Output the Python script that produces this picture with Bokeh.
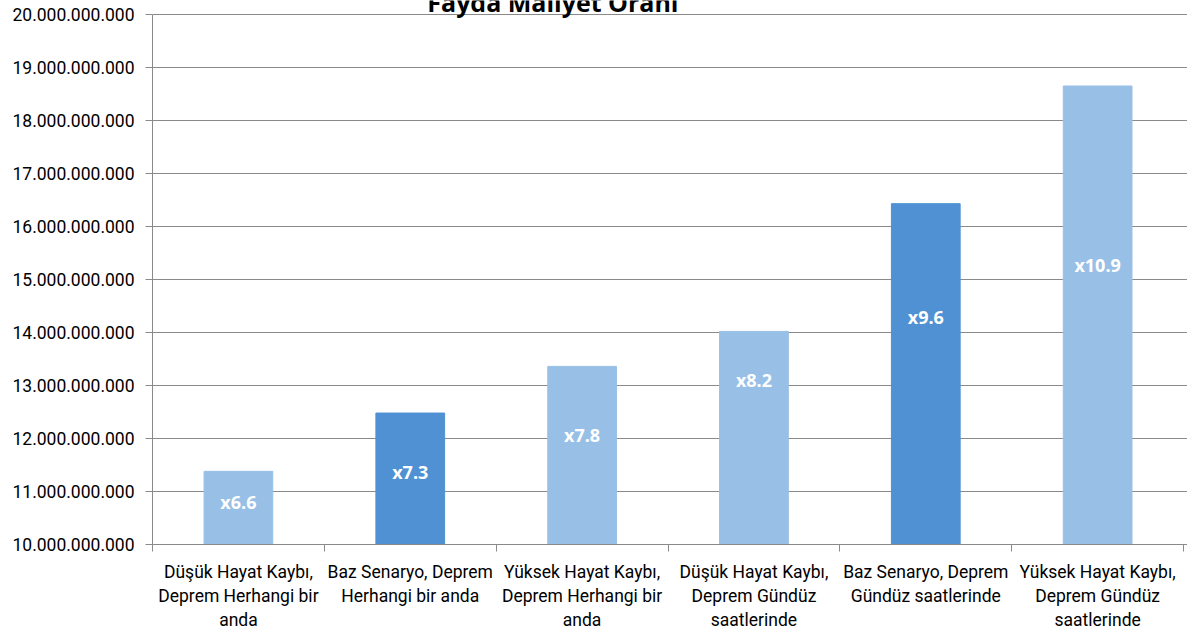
from bokeh.plotting import figure
from bokeh.models import ColumnDataSource, FixedTicker, Range1d
from bokeh.core.properties import value
from bokeh.embed import file_html
from bokeh.resources import INLINE

categories = [
    "Düşük Hayat Kaybı,\nDeprem Herhangi bir\nanda",
    "Baz Senaryo, Deprem\nHerhangi bir anda",
    "Yüksek Hayat Kaybı,\nDeprem Herhangi bir\nanda",
    "Düşük Hayat Kaybı,\nDeprem Gündüz\nsaatlerinde",
    "Baz Senaryo, Deprem\nGündüz saatlerinde",
    "Yüksek Hayat Kaybı,\nDeprem Gündüz\nsaatlerinde",
]
values = [11.38e9, 12.48e9, 13.36e9, 14.02e9, 16.43e9, 18.65e9]
ratio_labels = ["x6.6", "x7.3", "x7.8", "x8.2", "x9.6", "x10.9"]
label_levels = [10.81e9, 11.37e9, 12.07e9, 13.10e9, 14.29e9, 15.28e9]
bar_colors = ["#98c0e6", "#4f91d3", "#98c0e6", "#98c0e6", "#4f91d3", "#98c0e6"]
title_text = "Fayda Maliyet Oranı"
y_ticks = [10e9 + i * 1e9 for i in range(11)]

xs = [i + 0.5 for i in range(len(categories))]
src = ColumnDataSource(dict(x=xs, top=values, color=bar_colors,
                            lab=ratio_labels, ly=label_levels))

p = figure(width=1187, height=632, output_backend="svg", toolbar_location=None,
           x_range=Range1d(0, 6.023), y_range=Range1d(10e9, 20.263e9),
           min_border_left=152, min_border_right=0, min_border_top=0,
           min_border_bottom=86)
p.outline_line_color = None
p.background_fill_color = "white"
p.border_fill_color = "white"

p.vbar(x="x", top="top", bottom=10e9, width=0.4, color="color", source=src)
p.text(x="x", y="ly", text="lab", source=src, text_color="white",
       text_font=value("Open Sans"), text_font_style="bold",
       text_font_size="18px", text_align="center", text_baseline="middle")

p.text(x=[2.33], y=[20.24e9], text=[title_text], text_color="black",
       text_font=value("Open Sans"), text_font_style="bold",
       text_font_size="25px", text_align="center", text_baseline="middle")

# y axis
p.yaxis.ticker = FixedTicker(ticks=y_ticks)
p.yaxis.major_label_overrides = {t: f"{int(t):,}".replace(",", ".") for t in y_ticks}
p.yaxis.bounds = (10e9, 20e9)
p.yaxis.major_tick_in = 0
p.yaxis.major_tick_out = 7
p.yaxis.minor_tick_line_color = None
p.yaxis.axis_line_color = "#8a8a8a"
p.yaxis.major_tick_line_color = "#8a8a8a"
p.yaxis.major_label_text_font = "Roboto"
p.yaxis.major_label_text_font_size = "17.5px"
p.yaxis.major_label_text_color = "#000000"
p.yaxis.major_label_standoff = 11

# x axis
p.xaxis.ticker = FixedTicker(ticks=xs, minor_ticks=[0, 1, 2, 3, 4, 5, 6])
p.xaxis.major_label_overrides = {x: c for x, c in zip(xs, categories)}
p.xaxis.major_tick_line_color = None
p.xaxis.minor_tick_in = 0
p.xaxis.minor_tick_out = 7
p.xaxis.minor_tick_line_color = "#8a8a8a"
p.xaxis.axis_line_color = "#8a8a8a"
p.xaxis.major_label_text_font = "Roboto"
p.xaxis.major_label_text_font_size = "17.5px"
p.xaxis.major_label_text_color = "#000000"
p.xaxis.major_label_standoff = 10

p.xgrid.grid_line_color = None
p.ygrid.ticker = FixedTicker(ticks=y_ticks[1:])
p.ygrid.grid_line_color = "#8a8a8a"
p.ygrid.grid_line_width = 1

open("out.html", "w").write(file_html(p, INLINE))
